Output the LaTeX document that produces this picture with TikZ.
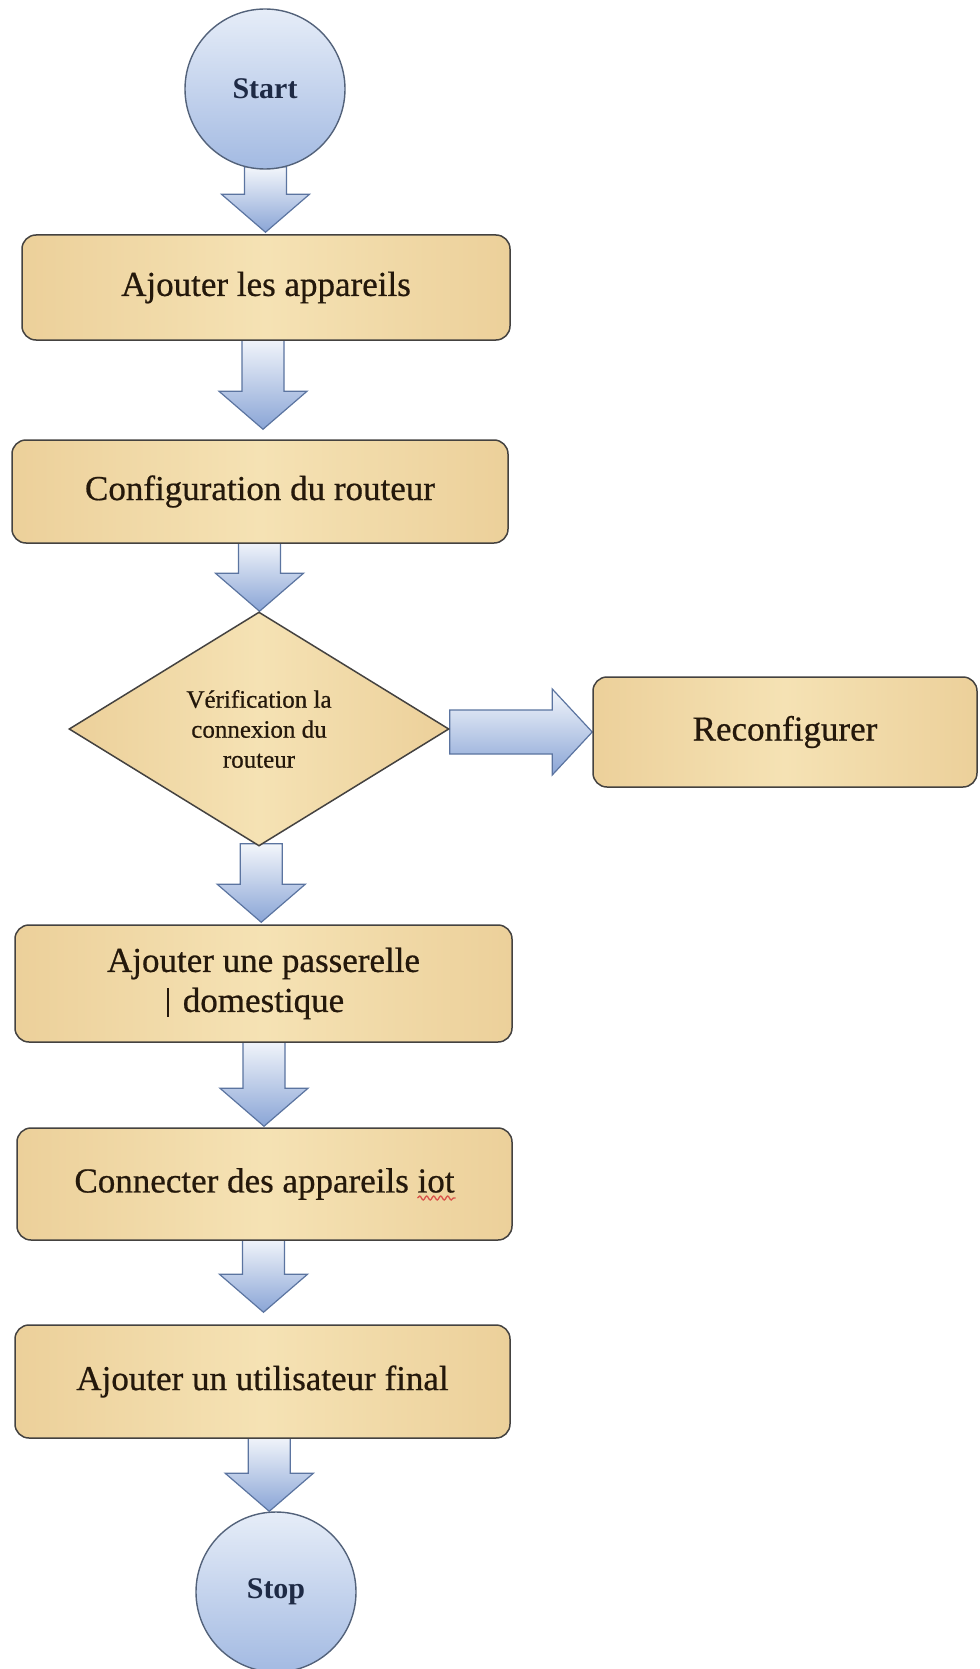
\documentclass[tikz,border=0pt]{standalone}
\usepackage{fontspec}
\setmainfont{Liberation Serif}
\newfontfamily\labelfont[FakeBold=0.6]{Liberation Serif}
\usetikzlibrary{shapes.geometric,calc,backgrounds,decorations.pathmorphing}

\definecolor{boxline}{HTML}{444240}
\definecolor{tanedge}{HTML}{ECD09A}
\definecolor{tanmid}{HTML}{F5E2B4}
\definecolor{bluetop}{HTML}{E6EDF8}
\definecolor{bluebot}{HTML}{A3BAE2}
\definecolor{blueline}{HTML}{53627A}
\definecolor{arrowtop}{HTML}{F3F6FB}
\definecolor{arrowbot}{HTML}{8AA5D6}
\definecolor{arrowline}{HTML}{5B74A0}
\definecolor{inktext}{HTML}{24180B}
\definecolor{navytext}{HTML}{1E2A45}
\definecolor{spellred}{HTML}{D9534A}

\tikzset{
  stepbox/.style={rectangle, rounded corners=14pt, draw=boxline, line width=1.5pt,
    left color=tanedge, right color=tanedge, middle color=tanmid,
    text=inktext, font=\labelfont\fontsize{35}{40}\selectfont, align=center, inner sep=0pt},
  terminal/.style={circle, draw=blueline, line width=1.4pt,
    top color=bluetop, bottom color=bluebot, minimum size=160pt, inner sep=0pt,
    text=navytext, font=\bfseries\fontsize{30}{36}\selectfont},
  decision/.style={diamond, shape aspect=1.6, draw=boxline, line width=1.5pt,
    left color=tanedge, right color=tanedge, middle color=tanmid,
    text=inktext, font=\labelfont\fontsize{25}{30}\selectfont, align=center, inner sep=0pt,
    minimum width=380pt, minimum height=234pt},
  blockarrow/.style={draw=arrowline, line width=1.2pt, top color=arrowtop,
    bottom color=arrowbot, line join=miter},
}

% Downward block arrow from #1 to #2, tip #3 pt above the target
\newcommand{\flowdown}[3]{%
  \path[blockarrow] let \p1=($(#1.south)!.5!(#2.north)$), \p2=(#1.south), \p3=(#2.north) in
    (\x1-21pt,\y2+3pt) -- (\x1+21pt,\y2+3pt) -- (\x1+21pt,\y3+#3pt+38pt)
    -- (\x1+44pt,\y3+#3pt+38pt) -- (\x1,\y3+#3pt) -- (\x1-44pt,\y3+#3pt+38pt)
    -- (\x1-21pt,\y3+#3pt+38pt) -- cycle;}

\begin{document}
\begin{tikzpicture}[x=1pt,y=-1pt]
\useasboundingbox (0,0) rectangle (979,1669);

\node[terminal] (start) at (265,89) {Start};
\node[stepbox, minimum width=488pt, minimum height=105pt] (add) at (266,287.5) {Ajouter les appareils};
\node[stepbox, minimum width=496pt, minimum height=103pt] (conf) at (260,491.5) {Configuration du routeur};
\node[decision] (check) at (259,729) {Vérification la\\connexion du\\routeur};
\node[stepbox, minimum width=384pt, minimum height=110pt] (reconf) at (785,732) {Reconfigurer};
\node[stepbox, minimum width=497pt, minimum height=117pt] (gateway) at (263.5,983.5)
  {Ajouter une passerelle\\\llap{\rule[-5pt]{1.8pt}{29pt}\hspace{14pt}}domestique};
\node[stepbox, minimum width=495pt, minimum height=112pt] (iot) at (264.5,1184) {Connecter des appareils iot};
\node[stepbox, minimum width=495pt, minimum height=113pt] (user) at (262.5,1381.5) {Ajouter un utilisateur final};
\node[terminal] (stop) at (276,1592) {Stop};

% spell-check squiggle under "iot"
\draw[spellred, line width=1.3pt, decorate, decoration={snake, segment length=7pt, amplitude=2pt}]
  ($(iot.center)+(153,14)$) -- ($(iot.center)+(191,14)$);

\begin{scope}[on background layer]
  \flowdown{start}{add}{2}
  \flowdown{add}{conf}{10}
  \flowdown{conf}{check}{0}
  \flowdown{check}{gateway}{2}
  \flowdown{gateway}{iot}{1}
  \flowdown{iot}{user}{12}
  \flowdown{user}{stop}{0}
  \path[blockarrow] let \p1=(check.east), \p2=(reconf.west) in
    (\x1,\y2+22pt) -- (\x2-40pt,\y2+22pt) -- (\x2-40pt,\y2+43pt) -- (\x2,\y2)
    -- (\x2-40pt,\y2-43pt) -- (\x2-40pt,\y2-22pt) -- (\x1,\y2-22pt) -- cycle;
\end{scope}
\end{tikzpicture}
\end{document}
